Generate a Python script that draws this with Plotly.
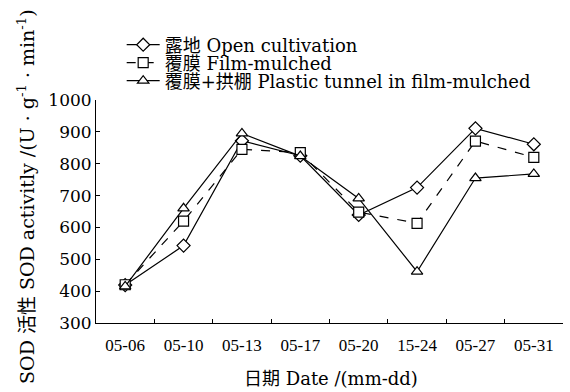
import plotly.graph_objects as go

dates = ["05-06", "05-10", "05-13", "05-17", "05-20", "15-24", "05-27", "05-31"]
open_cult = [419, 543, 872, 825, 639, 725, 911, 861]
film_mulched = [420, 620, 845, 835, 648, 613, 871, 820]
plastic_tunnel = [415, 660, 895, 824, 691, 461, 755, 768]

names = ["露地 Open cultivation", "覆膜 Film-mulched", "覆膜+拱棚 Plastic tunnel in film-mulched"]
symbols = ["diamond", "square", "triangle-up"]
dashes = ["solid", "dash", "solid"]
legends = ["legend", "legend2", "legend3"]

SERIF = "DejaVu Serif, Noto Sans CJK SC, serif"
TIMES = "Liberation Serif, Times New Roman, serif"

fig = go.Figure()
for vals, nm, sym, dsh, lg in zip([open_cult, film_mulched, plastic_tunnel], names, symbols, dashes, legends):
    fig.add_trace(go.Scatter(
        x=dates, y=vals, name=nm, mode="lines+markers", legend=lg,
        line=dict(color="black", width=1.2, dash=dsh),
        marker=dict(symbol=sym, size=10, color="white", line=dict(width=1.2, color="black")),
    ))

leg_common = dict(xanchor="left", yanchor="middle", bgcolor="rgba(0,0,0,0)",
                  font=dict(size=18, family=SERIF, color="black"), itemwidth=33,
                  borderwidth=0)
row_y = [1.2466, 1.1659, 1.0852]
fig.update_layout(
    width=570, height=392,
    margin=dict(l=96, r=7, t=100, b=69, autoexpand=False),
    paper_bgcolor="white", plot_bgcolor="white",
    font=dict(family=SERIF, size=17, color="black"),
    showlegend=True,
    legend=dict(x=0.055, y=row_y[0], **leg_common),
    legend2=dict(x=0.055, y=row_y[1], **leg_common),
    legend3=dict(x=0.055, y=row_y[2], **leg_common),
    xaxis=dict(type="category", range=[-0.5, 7.5], showline=True, linecolor="black", linewidth=1,
               ticks="inside", ticklen=4, tickcolor="black", tickson="boundaries",
               showgrid=False, zeroline=False, ticklabelstandoff=7,
               tickfont=dict(family=TIMES, size=17, color="black")),
    yaxis=dict(range=[300, 1000], dtick=100, showline=True, linecolor="black", linewidth=1,
               ticks="inside", ticklen=4, tickcolor="black", showgrid=False, zeroline=False,
               tickfont=dict(family=SERIF, size=17, color="black")),
    annotations=[
        dict(text="SOD 活性 SOD activitly /(U · g<sup>-1</sup> · min<sup>-1</sup>)",
             xref="paper", yref="paper", x=-0.150, y=0.5695, textangle=-90,
             showarrow=False, font=dict(size=19, family=SERIF, color="black"),
             xanchor="center", yanchor="middle"),
        dict(text="日期 Date /(mm-dd)",
             xref="paper", yref="paper", x=0.503, y=-0.25,
             showarrow=False, font=dict(size=18, family=SERIF, color="black"),
             xanchor="center", yanchor="middle"),
    ],
)

fig.write_html("out.html", config={"displayModeBar": False},
               post_script="document.body.style.margin='0';")
